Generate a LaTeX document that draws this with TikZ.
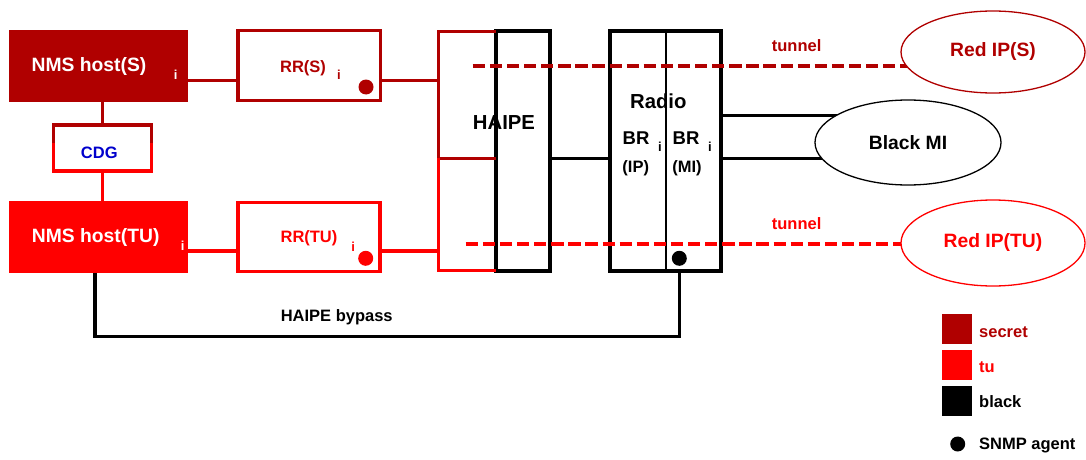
\documentclass[tikz,border=0pt]{standalone}
\usepackage{fontspec}
\setmainfont{Liberation Sans}
\usetikzlibrary{backgrounds,shapes.geometric}
\definecolor{sred}{RGB}{176,0,0}
\definecolor{tred}{RGB}{255,0,0}
\definecolor{cdgblue}{RGB}{0,0,204}
\pgfdeclarelayer{front}
\pgfsetlayers{background,main,front}
\begin{document}
\begin{tikzpicture}[x=1pt,y=-1pt,
  big/.style={font=\bfseries\fontsize{19.3}{23}\selectfont, inner sep=0},
  huge/.style={font=\bfseries\fontsize{20.3}{24}\selectfont, inner sep=0},
  brtxt/.style={font=\bfseries\fontsize{18.5}{22}\selectfont, inner sep=0},
  mid/.style={font=\bfseries\fontsize{16.5}{20}\selectfont, inner sep=0},
  sub/.style={font=\bfseries\fontsize{13}{15}\selectfont, inner sep=0},
  fillbox/.style={rectangle, inner sep=0, outer sep=0, draw=none},
  redbox/.style={rectangle, draw, line width=3.5pt, inner sep=0, outer sep=0, line join=miter},
  blkbox/.style={rectangle, draw=black, line width=4pt, inner sep=0, outer sep=0},
  shape outline/.style={line width=3.5pt, line join=miter},
  conn/.style={line width=3.2pt},
  tunnelline/.style={line width=4pt, dash pattern=on 12.3pt off 4.8pt},
  cloud/.style={ellipse, draw, line width=1.3pt, fill=white, inner sep=0, font=\bfseries\fontsize{19.3}{23}\selectfont},
  agent/.style={circle, inner sep=0, minimum size=15pt},
  legsq/.style={rectangle, inner sep=0, minimum size=30pt}
]
\useasboundingbox (0,0) rectangle (1086,460);

% ---- boxes
\node[fillbox, fill=sred, minimum width=179pt, minimum height=72pt] (nmss) at (98.5,66) {};
\node[fillbox, fill=tred, minimum width=179pt, minimum height=72.6pt] (nmstu) at (98.8,237) {};
\node[redbox, draw=sred, minimum width=142.5pt, minimum height=69.5pt] (rrs) at (309,65.5) {};
\node[redbox, draw=tred, minimum width=142pt, minimum height=69pt] (rrtu) at (309,237) {};
\node[fillbox, minimum width=98pt, minimum height=46pt] (cdg) at (102.5,148) {};
\node[fillbox, minimum width=57.5pt, minimum height=239pt] (haipered) at (467.25,151) {};
\node[blkbox, minimum width=53.7pt, minimum height=239pt] (haipe) at (522.9,151) {};
\node[blkbox, minimum width=111pt, minimum height=239pt] (radio) at (665.2,151) {};

% ---- helper coordinates
\coordinate (cs) at (0,143.3);
\coordinate (hs) at (0,158.3);
\coordinate (sy) at (0,80.7);
\coordinate (ty) at (0,251);
\coordinate (miy1) at (0,115.7);
\coordinate (miy2) at (0,158.3);
\coordinate (divc) at (665.7,0);
\coordinate (tsy) at (472.7,65.7);
\coordinate (tty) at (465.7,244);
\coordinate (bpl) at (95,336.7);
\coordinate (bpr) at (679.3,336.7);

% ---- ellipses (front layer)
\begin{pgfonlayer}{front}
\node[cloud, draw=sred, text=sred, minimum width=184pt, minimum height=82pt] (redips) at (993,52) {Red IP(S)};
\node[cloud, draw=black, minimum width=186pt, minimum height=85pt] (blackmi) at (908,142.5) {Black MI};
\node[cloud, draw=tred, text=tred, minimum width=184pt, minimum height=86pt] (rediptu) at (993,243) {Red IP(TU)};
\end{pgfonlayer}

% ---- two-coloured outlines
\draw[shape outline, sred] (cdg.west |- cs) -- (cdg.north west) -- (cdg.north east) -- (cdg.east |- cs);
\draw[shape outline, tred] (cdg.west |- cs) -- (cdg.south west) -- (cdg.south east) -- (cdg.east |- cs);
\draw[shape outline, sred] (haipered.north east) -- (haipered.north west) -- (haipered.west |- hs) -- (haipered.east |- hs);
\draw[shape outline, tred] (haipered.west |- hs) -- (haipered.south west) -- (haipered.south east);

% ---- connectors
\draw[conn, sred] (nmss.south -| cdg.north) -- (cdg.north);
\draw[conn, tred] (cdg.south) -- (nmstu.north -| cdg.south);
\draw[conn, sred] (nmss.east |- sy) -- (rrs.west |- sy);
\draw[conn, sred] (rrs.east |- sy) -- (haipered.west |- sy);
\draw[conn, tred] (nmstu.east |- ty) -- (rrtu.west |- ty);
\draw[conn, tred] (rrtu.east |- ty) -- (haipered.west |- ty);
\draw[line width=3.5pt] (haipe.east |- hs) -- (radio.west |- hs);
\draw[line width=2.2pt] (radio.north -| divc) -- (radio.south -| divc);
\draw[line width=3.5pt] (radio.east |- miy1) -- (blackmi.center |- miy1);
\draw[line width=3.5pt] (radio.east |- miy2) -- (blackmi.center |- miy2);
\draw[tunnelline, sred] (tsy) -- (redips.center |- tsy);
\draw[tunnelline, tred] (tty) -- (rediptu.center |- tty);
\draw[line width=3.3pt, line join=miter] (nmstu.south -| bpl) -- (bpl) -- (bpr) -- (radio.south -| bpr);

% ---- agents
\node[agent, fill=sred] (dots) at (366,87) {};
\node[agent, fill=tred] (dottu) at (365.7,258.3) {};
\node[agent, fill=black] (dotr) at (679.3,258.3) {};

% ---- texts
\node[big, text=white] (tnmss) at (89,66.7) {NMS host(S)};
\node[sub, text=white] (inmss) at (175.7,75) {i};
\node[big, text=white] (tnmstu) at (95.7,237.7) {NMS host(TU)};
\node[sub, text=white] (inmstu) at (182.7,246) {i};
\node[mid, text=sred] (trrs) at (303,68) {RR(S)};
\node[sub, text=sred] (irrs) at (339,75) {i};
\node[mid, text=tred] (trrtu) at (309,238.3) {RR(TU)};
\node[sub, text=tred] (irrtu) at (353.3,246.7) {i};
\node[mid, text=cdgblue] (tcdg) at (99.3,153.3) {CDG};
\node[huge] (thaipe) at (504,122.7) {HAIPE};
\node[huge] (tradio) at (658.3,101.7) {Radio};
\node[brtxt] (tbr1) at (636,138.3) {BR};
\node[sub] (ibr1) at (660,146.7) {i};
\node[mid] (tip) at (635.7,168.3) {(IP)};
\node[brtxt] (tbr2) at (686,138.3) {BR};
\node[sub] (ibr2) at (710,147) {i};
\node[mid] (tmi) at (687,168.3) {(MI)};
\node[mid, text=sred] (ttuns) at (796.6,46) {tunnel};
\node[mid, text=tred] (ttuntu) at (796.6,224) {tunnel};
\node[mid] (tbypass) at (336.7,317.3) {HAIPE bypass};

% ---- legend
\node[legsq, fill=sred] (lgs) at (957.3,329.3) {};
\node[legsq, fill=tred] (lgt) at (957.3,365) {};
\node[legsq, fill=black] (lgb) at (957.3,401) {};
\node[agent, fill=black] (lgd) at (957.7,444) {};
\node[mid, text=sred, anchor=west] (lgst) at (979,331.7) {secret};
\node[mid, text=tred, anchor=west] (lgtt) at (979,366.7) {tu};
\node[mid, anchor=west] (lgbt) at (979,401.7) {black};
\node[mid, anchor=west] (lgdt) at (979,445) {SNMP agent};
\end{tikzpicture}
\end{document}
